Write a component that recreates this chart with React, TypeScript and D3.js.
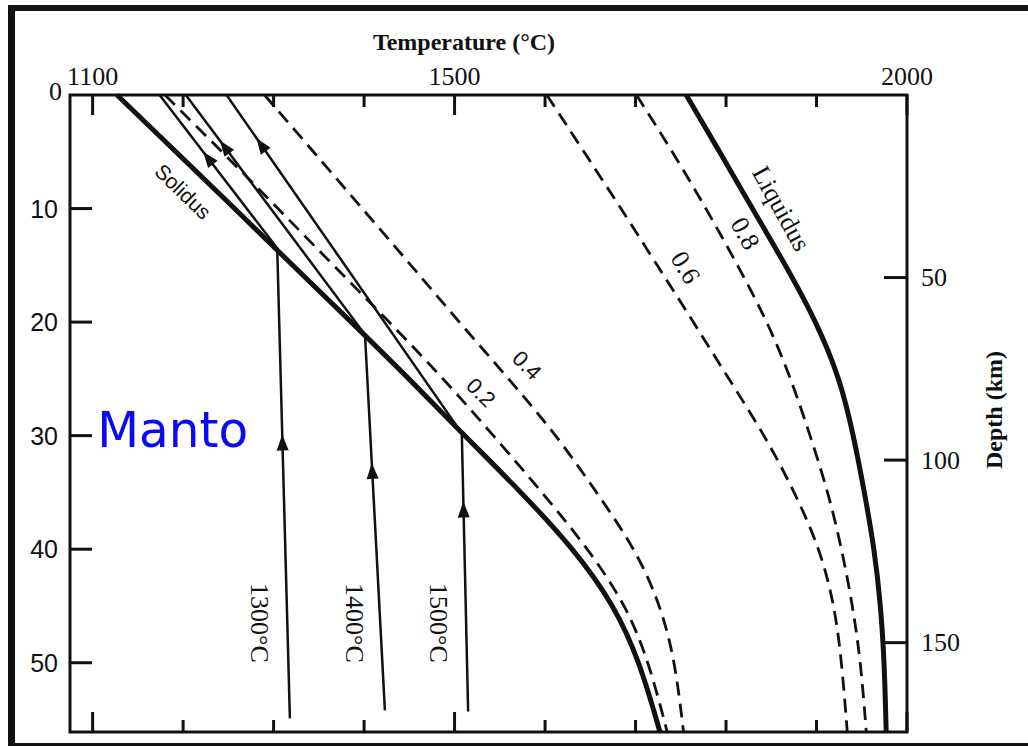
import React from 'react';
import * as d3 from 'd3';

const pressures = [0, 5, 10, 15, 20, 25, 30, 35, 40, 45, 50, 56.1];
const solidusT = [1127, 1192, 1257, 1321, 1386, 1450, 1511, 1574, 1632, 1677, 1705, 1727];
const melt02T = [1180, 1243, 1305, 1366, 1428, 1488, 1543, 1597, 1648, 1690, 1715, 1735];
const melt04T = [1290, 1344, 1398, 1452, 1505, 1560, 1613, 1657, 1700, 1728, 1744, 1753];
const melt06T = [1602, 1643, 1684, 1724, 1764, 1803, 1843, 1876, 1904, 1920, 1928, 1934];
const melt08T = [1701, 1741, 1778, 1813, 1846, 1872, 1893, 1913, 1928, 1940, 1949, 1955];
const liquidusT = [1756, 1793, 1829, 1866, 1900, 1926, 1941, 1953, 1964, 1971, 1975, 1977];

// adiabatic ascent paths: bottom point -> hits solidus -> surface
const adiabatNames = ['1300°C', '1400°C', '1500°C'];
const adiabatBottomT = [1318, 1423, 1515];
const adiabatBottomP = [54.9, 54.2, 54.3];
const adiabatSolidusT = [1304, 1401, 1508];
const adiabatSolidusP = [13.5, 21.1, 29.8];
const adiabatTopT = [1174, 1203, 1248];
const arrowLowP = [29.9, 32.4, 35.8];
const arrowHighP = [5.0, 4.0, 3.8];

// axis ticks
const tempTicks = d3.range(1100, 2001, 100);
const tempLabels = [1100, 1500, 2000];
const pressureTicks = [0, 10, 20, 30, 40, 50];
const depthTicks = [50, 100, 150];
const KM_PER_KBAR = 3.11;

const serif = '"Liberation Serif", "Times New Roman", serif';
const sans = '"Liberation Sans", Arial, sans-serif';
const ink = '#111';

type Pt = [number, number];

export default function App() {
  const x = d3.scaleLinear().domain([1075, 2000]).range([70, 907]);
  const y = d3.scaleLinear().domain([0, 56.1]).range([95, 732]);
  const yKm = d3.scaleLinear().domain([0, 56.1 * KM_PER_KBAR]).range([95, 732]);

  const smooth = d3.line<Pt>().x(d => x(d[0])).y(d => y(d[1])).curve(d3.curveBasis);
  const straight = d3.line<Pt>().x(d => x(d[0])).y(d => y(d[1]));
  const curve = (ts: number[]) => smooth(ts.map((t, i) => [t, pressures[i]] as Pt)) || '';

  // filled arrowhead on segment a->b (data coords), tip at pressure p
  const arrowHead = (a: Pt, b: Pt, p: number) => {
    const k = (p - a[1]) / (b[1] - a[1]);
    const tx = x(a[0] + (b[0] - a[0]) * k);
    const ty = y(p);
    const dx = x(b[0]) - x(a[0]);
    const dy = y(b[1]) - y(a[1]);
    const len = Math.hypot(dx, dy);
    const ux = dx / len, uy = dy / len;
    const L = 16, w = 6;
    const bx = tx - ux * L, by = ty - uy * L;
    return `M${tx},${ty}L${bx - uy * w},${by + ux * w}L${bx + uy * w},${by - ux * w}Z`;
  };

  const dashed = [
    { ts: melt02T, label: '0.2', lt: 1529, lp: 26.2, ang: 45, font: sans, size: 22 },
    { ts: melt04T, label: '0.4', lt: 1580, lp: 23.8, ang: 45, font: sans, size: 22 },
    { ts: melt06T, label: '0.6', lt: 1755, lp: 15.2, ang: 59, font: serif, size: 26 },
    { ts: melt08T, label: '0.8', lt: 1821, lp: 12.2, ang: 61, font: serif, size: 26 },
  ];

  const x0 = x.range()[0], x1 = x.range()[1];
  const y0 = y.range()[0], y1 = y.range()[1];

  return (
    <svg width={1028} height={746} style={{ position: 'absolute', left: 0, top: 0, background: '#fff' }}>
      <rect x={0} y={0} width={1028} height={746} fill="#fff" />
      {/* scan frame */}
      <rect x={8} y={5} width={7} height={741} fill={ink} />
      <rect x={8} y={5} width={1020} height={6} fill={ink} />
      <rect x={8} y={743} width={1020} height={3} fill={ink} />

      {/* plot frame */}
      <rect x={x0} y={y0} width={x1 - x0} height={y1 - y0} fill="none" stroke={ink} strokeWidth={3} />

      {/* temperature ticks, top and bottom */}
      {tempTicks.map(t => {
        const len = tempLabels.includes(t) ? 20 : 12;
        return (
          <g key={t} stroke={ink} strokeWidth={3}>
            <line x1={x(t)} x2={x(t)} y1={y0} y2={y0 + len} />
            <line x1={x(t)} x2={x(t)} y1={y1} y2={y1 - len} />
          </g>
        );
      })}
      {tempLabels.map(t => (
        <text key={t} x={x(t)} y={85} textAnchor="middle" fontFamily={serif} fontSize={26} fill={ink}>{t}</text>
      ))}
      <text x={464} y={50} textAnchor="middle" fontFamily={serif} fontWeight="bold" fontSize={24} fill={ink}>Temperature (°C)</text>

      {/* pressure ticks (left) */}
      {pressureTicks.map(p => (
        <g key={p}>
          {p > 0 && <line x1={x0} x2={x0 + 22} y1={y(p)} y2={y(p)} stroke={ink} strokeWidth={3} />}
          <text x={p === 0 ? 62 : 58} y={p === 0 ? y(p) - 4 : y(p)} textAnchor="end" dominantBaseline="central"
            fontFamily={p === 0 ? serif : sans} fontSize={p === 0 ? 26 : 25} fill={ink}>{p}</text>
        </g>
      ))}

      {/* depth ticks (right) */}
      {depthTicks.map(d => (
        <g key={d}>
          <line x1={x1} x2={x1 - 23} y1={yKm(d)} y2={yKm(d)} stroke={ink} strokeWidth={3} />
          <text x={921} y={yKm(d)} dominantBaseline="central" fontFamily={serif} fontSize={26} fill={ink}>{d}</text>
        </g>
      ))}
      <text transform="translate(994,410) rotate(-90)" textAnchor="middle" dominantBaseline="central"
        fontFamily={serif} fontWeight="bold" fontSize={24} fill={ink}>Depth (km)</text>

      {/* melt fraction isopleths */}
      {dashed.map(d => (
        <g key={d.label}>
          <path d={curve(d.ts)} fill="none" stroke={ink} strokeWidth={2.8} strokeDasharray="14,8" />
          <text transform={`translate(${x(d.lt)},${y(d.lp)}) rotate(${d.ang})`} textAnchor="middle" dominantBaseline="central"
            fontFamily={d.font} fontSize={d.size} fill={ink}>{d.label}</text>
        </g>
      ))}

      {/* solidus and liquidus */}
      <path d={curve(solidusT)} fill="none" stroke={ink} strokeWidth={5} />
      <path d={curve(liquidusT)} fill="none" stroke={ink} strokeWidth={5} />
      <text transform={`translate(${x(1200)},${y(8.5)}) rotate(44)`} textAnchor="middle" dominantBaseline="central"
        fontFamily={sans} fontSize={21} fill={ink}>Solidus</text>
      <text transform={`translate(${x(1861)},${y(10)}) rotate(61)`} textAnchor="middle" dominantBaseline="central"
        fontFamily={serif} fontSize={26} fill={ink}>Liquidus</text>

      {/* adiabats */}
      {adiabatNames.map((name, i) => {
        const bottom: Pt = [adiabatBottomT[i], adiabatBottomP[i]];
        const hit: Pt = [adiabatSolidusT[i], adiabatSolidusP[i]];
        const top: Pt = [adiabatTopT[i], 0];
        return (
          <g key={name}>
            <path d={straight([bottom, hit, top]) || ''} fill="none" stroke={ink} strokeWidth={2.5} />
            <path d={arrowHead(bottom, hit, arrowLowP[i])} fill={ink} />
            <path d={arrowHead(hit, top, arrowHighP[i])} fill={ink} />
            <text transform={`translate(${x(adiabatBottomT[i]) - 30},${y(46.5)}) rotate(90)`} textAnchor="middle"
              dominantBaseline="central" fontFamily={serif} fontSize={26} fill={ink}>{name}</text>
          </g>
        );
      })}

      {/* handwritten annotation */}
      <text x={x(1105)} y={y(31)} fontFamily='"DejaVu Sans", sans-serif' fontSize={50} fill="#0a0af5"
        textLength={151} lengthAdjust="spacingAndGlyphs">Manto</text>
    </svg>
  );
}
